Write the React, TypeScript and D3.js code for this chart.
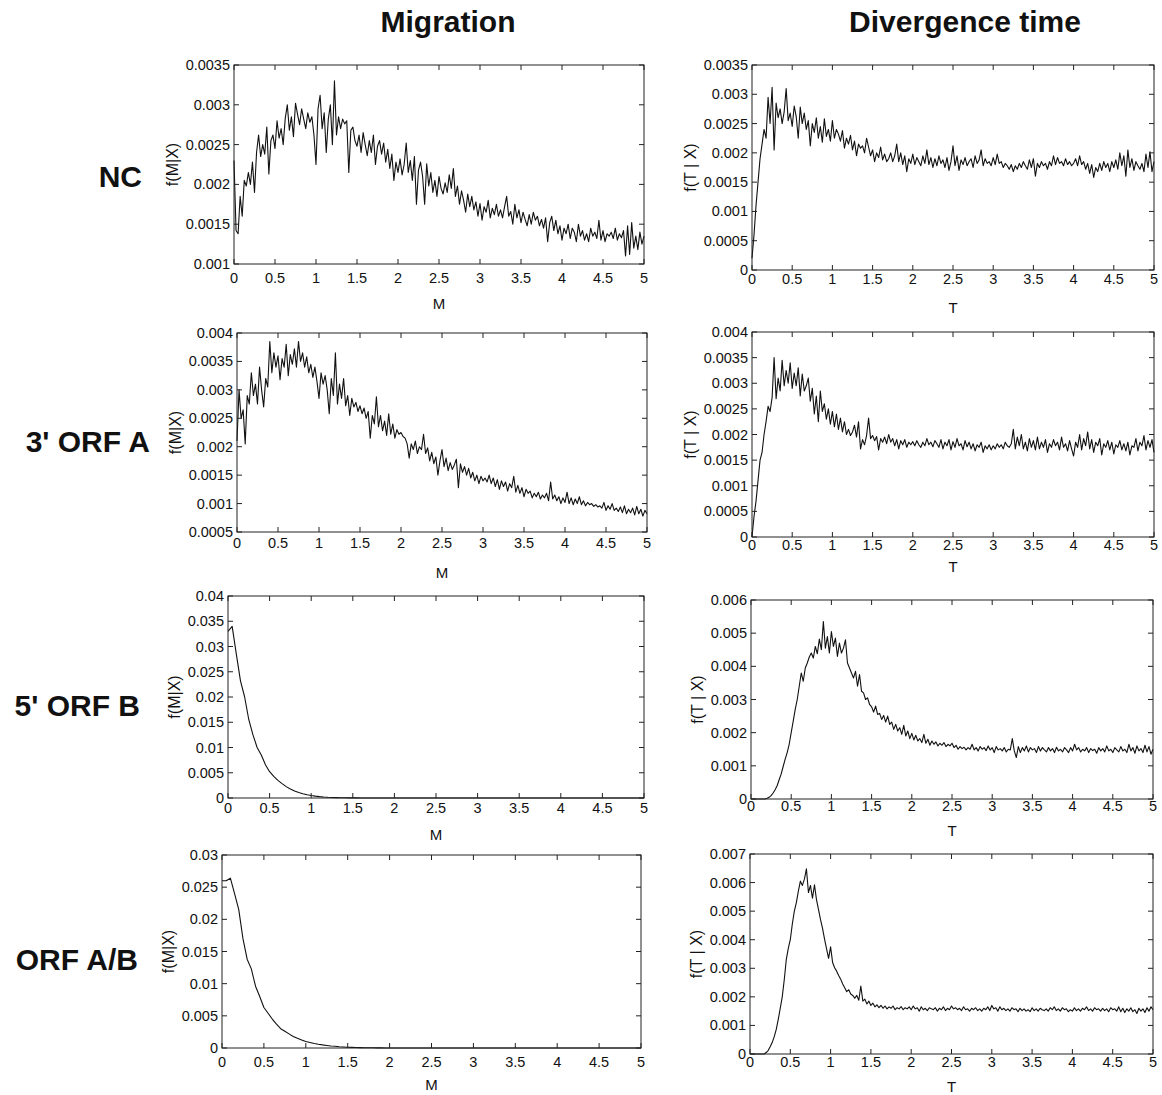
import * as d3 from "d3";

// series values are stored in units of 1e-5
const SCALE = 1e-5;

const COLUMN_TITLES = ["Migration", "Divergence time"];
const ROW_LABELS = ["NC", "3' ORF A", "5' ORF B", "ORF A/B"];
const X_TICKS = [0, 0.5, 1, 1.5, 2, 2.5, 3, 3.5, 4, 4.5, 5];

// y tick values per panel
const NC_M_TICKS = [0.001, 0.0015, 0.002, 0.0025, 0.003, 0.0035];
const NC_T_TICKS = [0, 0.0005, 0.001, 0.0015, 0.002, 0.0025, 0.003, 0.0035];
const ORFA_M_TICKS = [0.0005, 0.001, 0.0015, 0.002, 0.0025, 0.003, 0.0035, 0.004];
const ORFA_T_TICKS = [0, 0.0005, 0.001, 0.0015, 0.002, 0.0025, 0.003, 0.0035, 0.004];
const ORFB_M_TICKS = [0, 0.005, 0.01, 0.015, 0.02, 0.025, 0.03, 0.035, 0.04];
const ORFB_T_TICKS = [0, 0.001, 0.002, 0.003, 0.004, 0.005, 0.006];
const ORFAB_M_TICKS = [0, 0.005, 0.01, 0.015, 0.02, 0.025, 0.03];
const ORFAB_T_TICKS = [0, 0.001, 0.002, 0.003, 0.004, 0.005, 0.006, 0.007];

// NC, f(M|X), M = 0..5 step 0.025
const NC_M = [
  230, 142, 138, 185, 160, 205, 198, 215, 200, 228,
  190, 240, 262, 235, 250, 238, 272, 213, 255, 262,
  245, 280, 258, 270, 250, 283, 300, 268, 285, 260,
  302, 288, 275, 295, 282, 270, 290, 278, 285, 262,
  225, 295, 312, 270, 290, 240, 282, 300, 250, 330,
  262, 285, 270, 282, 276, 280, 215, 268, 272, 255,
  248, 262, 240, 265, 250, 236, 255, 240, 262, 225,
  248, 255, 238, 252, 228, 244, 220, 238, 205, 228,
  215, 232, 212, 225, 252, 215, 230, 205, 235, 175,
  218, 228, 210, 175, 226, 198, 215, 190, 205, 185,
  210, 195, 188, 202, 190, 212, 195, 220, 185, 198,
  175, 192, 180, 165, 188, 172, 185, 168, 178, 160,
  176, 155, 172, 165, 180, 158, 170, 162, 175, 160,
  168, 158, 172, 185, 160, 166, 150, 175, 158, 168,
  152, 165, 156, 148, 162, 150, 165, 155, 160, 148,
  156, 145, 158, 128, 152, 160, 142, 155, 138, 148,
  130, 145, 138, 150, 132, 145, 140, 128, 150, 135,
  142, 130, 138, 128, 145, 135, 140, 132, 155, 130,
  142, 128, 138, 135, 140, 132, 145, 130, 138, 133,
  142, 110, 148, 112, 152, 120, 135, 118, 140, 125,
  135,
];

// NC, f(T|X)
const NC_T = [
  20, 60, 110, 150, 190, 215, 240, 225, 295, 250,
  312, 205, 285, 260, 275, 250, 270, 310, 255, 268,
  245, 280, 262, 225, 278, 250, 268, 240, 255, 212,
  250, 235, 260, 225, 245, 218, 258, 228, 240, 220,
  255, 225, 240, 232, 220, 238, 208, 225, 215, 230,
  205, 220, 195, 215, 208, 212, 200, 225, 210, 195,
  205, 185, 200, 192, 210, 188, 198, 185, 190, 200,
  185, 195, 215, 185, 200, 180, 195, 168, 190, 182,
  198, 180, 192, 185, 178, 195, 182, 205, 180, 192,
  175, 190, 178, 195, 182, 188, 175, 192, 170, 185,
  212, 178, 195, 170, 188, 180, 192, 178, 185, 190,
  175, 195, 182, 188, 205, 178, 190, 182, 185, 178,
  192, 180, 198, 182, 185, 175, 182, 178, 172, 180,
  168, 178, 172, 182, 175, 185, 178, 172, 188, 175,
  190, 160, 182, 175, 185, 178, 182, 172, 185, 178,
  195, 180, 192, 182, 185, 178, 190, 180, 185, 178,
  182, 190, 178, 195, 180, 185, 172, 182, 165, 180,
  158, 175, 168, 182, 170, 185, 175, 182, 168, 185,
  175, 188, 172, 200, 178, 195, 160, 205, 175, 190,
  170, 185, 178, 172, 182, 168, 198, 175, 202, 168,
  185,
];

// 3' ORF A, f(M|X)
const ORFA_M = [
  210, 300, 250, 265, 205, 290, 275, 330, 290, 310,
  275, 340, 300, 270, 320, 305, 385, 330, 365, 340,
  360, 318, 355, 340, 380, 325, 362, 345, 372, 340,
  385, 350, 365, 340, 358, 330, 345, 322, 340, 315,
  285, 330, 310, 325, 300, 258, 320, 290, 365, 275,
  310, 285, 320, 272, 290, 255, 285, 270, 278, 262,
  272, 258, 268, 250, 262, 215, 255, 240, 288, 235,
  255, 228, 245, 220, 258, 222, 240, 215, 230, 222,
  225, 218, 215, 205, 180, 205, 195, 210, 188, 200,
  195, 222, 188, 198, 175, 190, 170, 182, 150, 175,
  195, 165, 180, 158, 172, 160, 168, 178, 128, 170,
  155, 165, 150, 162, 145, 155, 140, 150, 135, 148,
  140, 145, 138, 150, 135, 145, 130, 142, 125, 140,
  130, 138, 122, 135, 128, 148, 120, 132, 118, 128,
  112, 125, 118, 122, 110, 118, 112, 120, 108, 115,
  110, 118, 105, 138, 108, 115, 105, 112, 100, 110,
  102, 120, 100, 110, 98, 108, 100, 112, 98, 105,
  96, 102, 98, 100, 95, 98, 94, 96, 92, 102,
  88, 96, 90, 100, 88, 92, 86, 94, 84, 96,
  82, 90, 84, 92, 80, 95, 82, 90, 78, 88,
  82,
];

// 3' ORF A, f(T|X)
const ORFA_T = [
  0, 40, 70, 110, 150, 165, 200, 225, 255, 245,
  272, 350, 270, 310, 285, 345, 295, 325, 300, 340,
  290, 320, 295, 330, 275, 318, 285, 295, 310, 265,
  290, 240, 275, 225, 285, 245, 260, 230, 250, 220,
  245, 215, 240, 210, 232, 205, 225, 200, 210, 198,
  205, 218, 195, 225, 172, 190, 180, 198, 232, 192,
  198, 188, 196, 170, 192, 185, 195, 182, 200, 185,
  192, 178, 190, 172, 188, 180, 190, 175, 185, 180,
  186, 178, 188, 180, 175, 185, 178, 192, 180, 185,
  176, 188, 182, 175, 190, 172, 185, 178, 190, 170,
  186, 175, 192, 178, 182, 170, 188, 176, 185, 172,
  182, 168, 180, 175, 185, 165, 178, 172, 180, 170,
  178, 172, 182, 175, 180, 172, 185, 178, 175, 182,
  210, 172, 195, 178, 200, 172, 185, 168, 192, 175,
  188, 170, 195, 172, 185, 175, 190, 165, 182, 175,
  190, 178, 185, 170, 195, 175, 182, 168, 188, 172,
  158, 185, 175, 200, 170, 192, 178, 205, 172, 190,
  165, 185, 178, 192, 160, 182, 175, 188, 170, 185,
  162, 180, 175, 188, 170, 182, 168, 185, 160, 178,
  175, 192, 168, 185, 178, 198, 170, 188, 175, 190,
  165,
];

// 5' ORF B, f(M|X), M = 0..5 step 0.05
const ORFB_M = [
  3300, 3400, 2850, 2320, 2000, 1550, 1250, 1000, 850, 660,
  520, 430, 350, 285, 225, 180, 140, 110, 85, 65,
  50, 38, 28, 20, 14, 10, 7, 5, 4, 3,
  2, 2, 1, 1, 1, 1, 1, 1, 1, 1,
  0, 0, 0, 0, 0, 0, 0, 0, 0, 0,
  0, 0, 0, 0, 0, 0, 0, 0, 0, 0,
  0, 0, 0, 0, 0, 0, 0, 0, 0, 0,
  0, 0, 0, 0, 0, 0, 0, 0, 0, 0,
  0, 0, 0, 0, 0, 0, 0, 0, 0, 0,
  0, 0, 0, 0, 0, 0, 0, 0, 0, 0,
  0,
];

// 5' ORF B, f(T|X)
const ORFB_T = [
  0, 0, 0, 0, 0, 0, 0, 0, 2, 5,
  10, 18, 28, 40, 58, 75, 98, 120, 140, 165,
  200, 235, 270, 300, 340, 380, 355, 395, 410, 428,
  440, 425, 460, 438, 482, 450, 535, 455, 490, 440,
  505, 460, 485, 430, 470, 440, 455, 480, 410, 395,
  380, 365, 385, 340, 375, 325, 320, 300, 305, 285,
  278, 262, 280, 255, 258, 240, 252, 232, 250, 225,
  232, 210, 225, 205, 215, 195, 222, 190, 205, 182,
  198, 178, 192, 175, 182, 170, 195, 168, 180, 162,
  175, 165, 172, 160, 168, 162, 170, 158, 165, 160,
  168, 155, 162, 150, 158, 152, 156, 148, 155, 150,
  165, 148, 155, 145, 158, 150, 155, 146, 160, 148,
  155, 140, 158, 148, 152, 145, 155, 142, 150, 148,
  182, 145, 125, 158, 140, 155, 145, 160, 142, 155,
  148, 152, 140, 158, 145, 155, 148, 142, 155, 145,
  152, 140, 156, 145, 150, 142, 155, 148, 140, 155,
  145, 165, 148, 155, 142, 150, 145, 155, 140, 152,
  146, 150, 138, 155, 145, 152, 142, 160, 145, 150,
  140, 155, 148, 142, 158, 145, 150, 140, 165, 145,
  155, 138, 160, 145, 152, 140, 162, 142, 158, 135,
  150,
];

// ORF A/B, f(M|X), M = 0..5 step 0.05
const ORFAB_M = [
  2600, 2600, 2640, 2400, 2150, 1700, 1380, 1230, 960, 800,
  630, 540, 450, 370, 300, 260, 220, 180, 150, 125,
  100, 85, 70, 58, 48, 40, 32, 26, 20, 16,
  12, 10, 8, 6, 5, 4, 3, 2, 2, 1,
  1, 1, 0, 0, 0, 0, 0, 0, 0, 0,
  0, 0, 0, 0, 0, 0, 0, 0, 0, 0,
  0, 0, 0, 0, 0, 0, 0, 0, 0, 0,
  0, 0, 0, 0, 0, 0, 0, 0, 0, 0,
  0, 0, 0, 0, 0, 0, 0, 0, 0, 0,
  0, 0, 0, 0, 0, 0, 0, 0, 0, 0,
  0,
];

// ORF A/B, f(T|X)
const ORFAB_T = [
  0, 0, 0, 0, 0, 0, 0, 0, 5, 12,
  25, 40, 60, 85, 120, 160, 200, 260, 330, 370,
  400, 455, 500, 530, 570, 605, 590, 612, 648, 565,
  590, 545, 592, 540, 505, 470, 440, 402, 368, 335,
  375, 320, 302, 290, 275, 262, 245, 232, 218, 225,
  210, 205, 195, 205, 188, 238, 185, 192, 175, 185,
  170, 178, 165, 172, 162, 170, 160, 168, 158, 165,
  160, 168, 155, 162, 158, 166, 155, 162, 158, 165,
  155, 168, 158, 162, 150, 165, 155, 160, 152, 162,
  158, 155, 162, 150, 160, 155, 165, 152, 160, 155,
  168, 158, 162, 155, 160, 152, 165, 155, 158, 150,
  160, 155, 162, 152, 158, 150, 160, 155, 165, 152,
  170, 158, 162, 150, 165, 155, 160, 152, 158, 150,
  162, 155, 158, 148, 160, 152, 158, 150, 155, 148,
  162, 152, 158, 150, 160, 155, 152, 158, 150, 162,
  155, 165, 152, 158, 150, 162, 155, 158, 148, 155,
  150, 162, 152, 158, 150, 160, 155, 165, 152, 158,
  150, 162, 155, 158, 150, 160, 152, 158, 148, 162,
  155, 158, 150, 165, 148, 160, 145, 158, 150, 162,
  148, 155, 142, 160, 150, 158, 145, 162, 150, 165,
  155,
];

const PANELS = [
  { values: NC_M, yTicks: NC_M_TICKS, xLabel: "M", yLabel: "f(M|X)" },
  { values: NC_T, yTicks: NC_T_TICKS, xLabel: "T", yLabel: "f(T | X)" },
  { values: ORFA_M, yTicks: ORFA_M_TICKS, xLabel: "M", yLabel: "f(M|X)" },
  { values: ORFA_T, yTicks: ORFA_T_TICKS, xLabel: "T", yLabel: "f(T | X)" },
  { values: ORFB_M, yTicks: ORFB_M_TICKS, xLabel: "M", yLabel: "f(M|X)" },
  { values: ORFB_T, yTicks: ORFB_T_TICKS, xLabel: "T", yLabel: "f(T | X)" },
  { values: ORFAB_M, yTicks: ORFAB_M_TICKS, xLabel: "M", yLabel: "f(M|X)" },
  { values: ORFAB_T, yTicks: ORFAB_T_TICKS, xLabel: "T", yLabel: "f(T | X)" },
];

// plot boxes (they are not perfectly aligned)
const FRAMES = [
  { x0: 234, x1: 644, y0: 65, y1: 264, tickBase: 283, labelBase: 309 },
  { x0: 752, x1: 1154, y0: 65, y1: 270, tickBase: 284, labelBase: 313 },
  { x0: 237, x1: 647, y0: 333, y1: 532, tickBase: 548, labelBase: 578 },
  { x0: 752, x1: 1154, y0: 332, y1: 537, tickBase: 550, labelBase: 572 },
  { x0: 228, x1: 644, y0: 596, y1: 798, tickBase: 813, labelBase: 840 },
  { x0: 751, x1: 1153, y0: 600, y1: 799, tickBase: 811, labelBase: 836 },
  { x0: 222, x1: 641, y0: 855, y1: 1048, tickBase: 1067, labelBase: 1090 },
  { x0: 750, x1: 1153, y0: 854, y1: 1054, tickBase: 1067, labelBase: 1092 },
];

const ROW_POS = [
  { x: 142, y: 187 },
  { x: 150, y: 452 },
  { x: 140, y: 716 },
  { x: 138, y: 970 },
];
const COL_POS = [448, 965];

const FONT = "'Liberation Sans', Arial, Helvetica, sans-serif";
const TICK_FS = 14.5;
const TICK_LEN = 5;

const fmt = (v: number) => String(+v.toFixed(6));
const textW = (s: string) =>
  s.split("").reduce((w, c) => w + (c === "." ? 0.278 : 0.556), 0) * TICK_FS;

function Panel({ spec, frame }: { spec: any; frame: any }) {
  const { x0, x1, y0, y1, tickBase, labelBase } = frame;
  const yT: number[] = spec.yTicks;
  const x = d3.scaleLinear().domain([0, 5]).range([x0, x1]);
  const y = d3.scaleLinear().domain([yT[0], yT[yT.length - 1]]).range([y1, y0]);
  const step = 5 / (spec.values.length - 1);
  const line = d3
    .line<number>()
    .x((_, i) => x(i * step))
    .y((d) => y(d * SCALE));

  const maxW = d3.max(yT, (t) => textW(fmt(t))) || 0;
  const yLabelX = x0 - 4 - maxW - 8;
  const cy = (y0 + y1) / 2;

  return (
    <g>
      <path d={line(spec.values) || ""} fill="none" stroke="#111" strokeWidth={1.1} strokeLinejoin="round" />
      <rect x={x0} y={y0} width={x1 - x0} height={y1 - y0} fill="none" stroke="#222" strokeWidth={1} />
      {X_TICKS.map((t) => (
        <g key={"x" + t}>
          <line x1={x(t)} x2={x(t)} y1={y1} y2={y1 - TICK_LEN} stroke="#222" />
          <line x1={x(t)} x2={x(t)} y1={y0} y2={y0 + TICK_LEN} stroke="#222" />
          <text x={x(t)} y={tickBase} textAnchor="middle" fontSize={TICK_FS} fontFamily={FONT} fill="#111">
            {fmt(t)}
          </text>
        </g>
      ))}
      {yT.map((t) => (
        <g key={"y" + t}>
          <line x1={x0} x2={x0 + TICK_LEN} y1={y(t)} y2={y(t)} stroke="#222" />
          <line x1={x1} x2={x1 - TICK_LEN} y1={y(t)} y2={y(t)} stroke="#222" />
          <text x={x0 - 4} y={y(t) + 5} textAnchor="end" fontSize={TICK_FS} fontFamily={FONT} fill="#111">
            {fmt(t)}
          </text>
        </g>
      ))}
      <text x={(x0 + x1) / 2} y={labelBase} textAnchor="middle" fontSize={15} fontFamily={FONT} fill="#111">
        {spec.xLabel}
      </text>
      <text
        transform={`translate(${yLabelX},${cy}) rotate(-90)`}
        textAnchor="middle"
        fontSize={16}
        fontFamily={FONT}
        fill="#111"
      >
        {spec.yLabel}
      </text>
    </g>
  );
}

export default function App() {
  return (
    <svg
      width={1162}
      height={1095}
      style={{ position: "absolute", left: 0, top: 0, background: "#fff" }}
    >
      <rect width={1162} height={1095} fill="#fff" />
      {COLUMN_TITLES.map((t, i) => (
        <text key={t} x={COL_POS[i]} y={32} textAnchor="middle" fontSize={30} fontWeight="bold" fontFamily={FONT} fill="#111">
          {t}
        </text>
      ))}
      {ROW_LABELS.map((t, i) => (
        <text key={t} x={ROW_POS[i].x} y={ROW_POS[i].y} textAnchor="end" fontSize={30} fontWeight="bold" fontFamily={FONT} fill="#111">
          {t}
        </text>
      ))}
      {PANELS.map((p, i) => (
        <Panel key={i} spec={p} frame={FRAMES[i]} />
      ))}
    </svg>
  );
}
